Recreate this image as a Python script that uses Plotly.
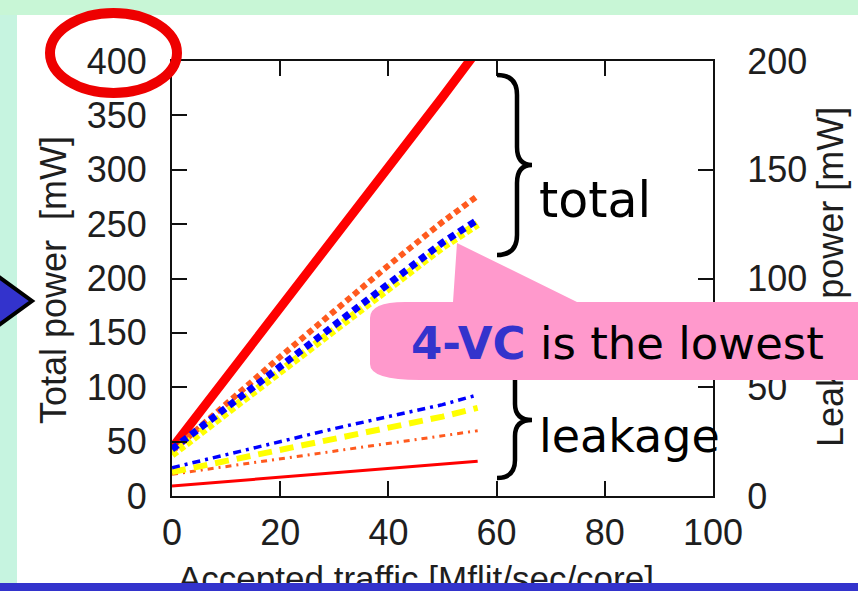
import plotly.graph_objects as go

# ---------------- data ----------------
# accepted traffic [Mflit/sec/core]
traffic = [0, 10, 20, 30, 40, 50, 56.5]

# total power [mW] (left axis)
total_1vc = [44, 108, 173, 238, 302, 367, 410]
total_2vc = [41, 85, 128, 170, 212, 252, 276]
total_3vc = [38, 76, 115, 153, 191, 229, 250]
total_4vc = [43, 81, 119, 157, 195, 233, 254]

# leakage power [mW] (right axis)
leak_1vc = [4.6, 6.6, 8.7, 10.7, 12.4, 14.5, 16.0]
leak_2vc = [10.0, 13.5, 17.0, 20.5, 24.0, 27.5, 30.0]
leak_3vc = [11.0, 16.0, 21.5, 26.5, 31.5, 36.5, 40.5]
leak_4vc = [13.0, 19.0, 25.0, 31.0, 36.5, 42.0, 46.5]

x_ticks = [0, 20, 40, 60, 80, 100]
y_ticks = [0, 50, 100, 150, 200, 250, 300, 350, 400]
y2_ticks = [0, 50, 100, 150, 200]

# ---------------- layout geometry ----------------
W, H = 858, 591
L, R, T, B = 172, 713, 61, 496          # plot area edges in pixels


def px(x):
    return (x - L) / (R - L)


def py(y):
    return (B - y) / (B - T)


def path(points):
    """Build an SVG path in paper coordinates from pixel commands."""
    out = []
    for item in points:
        if isinstance(item, str):
            out.append(item)
        else:
            out.append(f"{px(item[0]):.5f},{py(item[1]):.5f}")
    return " ".join(out)


RED = "#ff0000"
ORANGE = "#ff5a1e"
YELLOW = "#ffff00"
BLUE = "#0000ff"
SLIDE_BLUE = "#3333cc"
PINK = "#ff99cc"
AXIS = "#111111"
SANS = "Liberation Sans, Arial"
TICKFONT = dict(family=SANS, size=36, color="#1e1e1e")
SLIDE_FONT = "DejaVu Sans"

fig = go.Figure()

# total power curves
fig.add_trace(go.Scatter(x=traffic, y=total_1vc, mode="lines", name="total 1-VC",
                         line=dict(color=RED, width=9)))
fig.add_trace(go.Scatter(x=traffic, y=total_2vc, mode="lines", name="total 2-VC",
                         line=dict(color=ORANGE, width=6, dash="6px,4px")))
fig.add_trace(go.Scatter(x=traffic, y=total_3vc, mode="lines", name="total 3-VC",
                         line=dict(color=YELLOW, width=8, dash="6px,3px")))
fig.add_trace(go.Scatter(x=traffic, y=total_4vc, mode="lines", name="total 4-VC",
                         line=dict(color=BLUE, width=7, dash="7px,5px")))

# leakage power curves
fig.add_trace(go.Scatter(x=traffic, y=leak_1vc, mode="lines", name="leak 1-VC", yaxis="y2",
                         line=dict(color=RED, width=3)))
fig.add_trace(go.Scatter(x=traffic, y=leak_2vc, mode="lines", name="leak 2-VC", yaxis="y2",
                         line=dict(color=ORANGE, width=3, dash="6px,5px,2px,5px")))
fig.add_trace(go.Scatter(x=traffic, y=leak_3vc, mode="lines", name="leak 3-VC", yaxis="y2",
                         line=dict(color=YELLOW, width=6, dash="14px,8px")))
fig.add_trace(go.Scatter(x=traffic, y=leak_4vc, mode="lines", name="leak 4-VC", yaxis="y2",
                         line=dict(color=BLUE, width=3.5, dash="8px,5px,3px,5px")))

axis_common = dict(showgrid=False, zeroline=False, showline=True, linecolor=AXIS,
                   linewidth=2, ticks="inside", ticklen=15, tickwidth=2,
                   tickcolor=AXIS, tickfont=TICKFONT)

shapes = [
    # slide background bands
    dict(type="rect", xref="paper", yref="paper", layer="below",
         x0=px(-5), x1=px(W + 5), y0=py(15), y1=py(-5),
         fillcolor="#c8f6d6", line_width=0),
    dict(type="rect", xref="paper", yref="paper", layer="below",
         x0=px(-5), x1=px(17), y0=py(583), y1=py(15),
         fillcolor="#c6f4e0", line_width=0),
    # red ellipse around the top tick label
    dict(type="circle", xref="paper", yref="paper", layer="above",
         x0=px(50), x1=px(177), y0=py(93), y1=py(13),
         line=dict(color="#ee0000", width=10)),
    # blue pointer at the left edge
    dict(type="path", xref="paper", yref="paper", layer="above",
         path=path(["M", (-12, 269), "L", (32, 301), "L", (-12, 333), "Z"]),
         fillcolor=SLIDE_BLUE, line=dict(color="black", width=4)),
    # brace for "total"
    dict(type="path", xref="paper", yref="paper", layer="above",
         path=path(["M", (497, 75), "Q", (517, 75), (517, 95), "L", (517, 147),
                    "Q", (517, 165), (532, 165), "Q", (517, 165), (517, 183),
                    "L", (517, 235), "Q", (517, 255), (497, 255)]),
         line=dict(color="black", width=4.5)),
    # brace for "leakage"
    dict(type="path", xref="paper", yref="paper", layer="above",
         path=path(["M", (497, 362), "Q", (515, 362), (515, 380), "L", (515, 404),
                    "Q", (515, 420), (532, 420), "Q", (515, 420), (515, 436),
                    "L", (515, 460), "Q", (515, 478), (497, 478)]),
         line=dict(color="black", width=4.5)),
    # callout bubble
    dict(type="path", xref="paper", yref="paper", layer="above",
         path=path(["M", (370, 318), "Q", (370, 302), (405, 302), "L", (453, 302),
                    "L", (457, 243), "L", (577, 302), "L", (850, 302),
                    "Q", (866, 302), (866, 318), "L", (866, 366),
                    "Q", (866, 380), (850, 380), "L", (420, 380),
                    "Q", (370, 380), (370, 364), "Z"]),
         fillcolor=PINK, line_width=0),
]

annotations = [
    # axis titles
    dict(text="Total power\u00a0\u00a0[mW]", x=px(53), y=py(280), textangle=-90,
         font=dict(family=SANS, size=36, color="#1e1e1e")),
    dict(text="Leakage power [mW]", x=px(830), y=py(277), textangle=-90,
         font=dict(family=SANS, size=36, color="#1e1e1e")),
    dict(text="Accepted traffic [Mflit/sec/core]", x=px(416), y=py(578),
         font=dict(family=SANS, size=35, color="#1e1e1e")),
    # bubble part lying over the right axis title
    dict(text="\u00a0", x=px(835), y=py(341), width=70, height=78,
         bgcolor=PINK, borderpad=0, borderwidth=0, font=dict(size=2)),
    # brace labels
    dict(text="total", x=px(537), y=py(200), xanchor="left",
         font=dict(family=SLIDE_FONT, size=49, color="black")),
    dict(text="leakage", x=px(537), y=py(436), xanchor="left",
         font=dict(family=SLIDE_FONT, size=46, color="black")),
    # callout text
    dict(text=f"<span style='color:{SLIDE_BLUE}'><b>4-VC</b></span> is the lowest",
         x=px(409), y=py(343), xanchor="left",
         font=dict(family=SLIDE_FONT, size=45, color="black")),
    # slide footer bar
    dict(text="\u00a0", x=px(429), y=py(588), width=900, height=10,
         bgcolor=SLIDE_BLUE, borderpad=0, borderwidth=0, font=dict(size=2)),
]
for a in annotations:
    a.setdefault("xref", "paper")
    a.setdefault("yref", "paper")
    a.setdefault("xanchor", "center")
    a.setdefault("yanchor", "middle")
    a.setdefault("showarrow", False)

fig.update_layout(
    width=W, height=H, autosize=False,
    margin=dict(l=L, r=W - R, t=T, b=H - B, pad=0),
    paper_bgcolor="white", plot_bgcolor="rgba(0,0,0,0)",
    showlegend=False,
    xaxis=dict(range=[0, 100], tickvals=x_ticks, mirror="ticks",
               ticklabelstandoff=4, **axis_common),
    yaxis=dict(range=[0, 400], tickvals=y_ticks, ticklabelstandoff=16,
               **axis_common),
    yaxis2=dict(range=[0, 200], tickvals=y2_ticks, overlaying="y", side="right",
                ticklabelstandoff=25, **axis_common),
    shapes=shapes,
    annotations=annotations,
)

fig.write_html("out.html")
